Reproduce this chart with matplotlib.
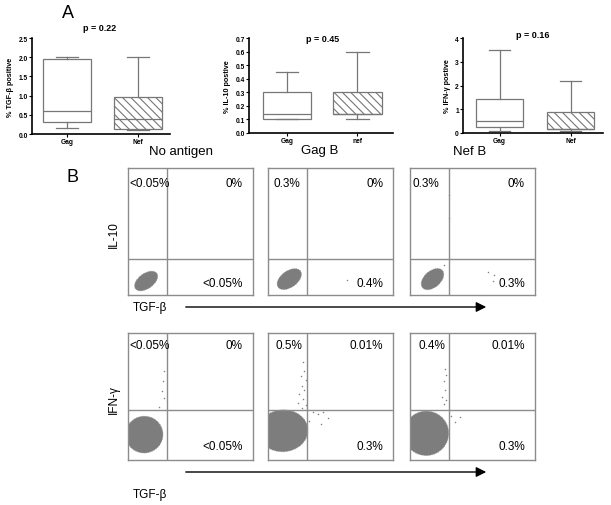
import matplotlib
matplotlib.use("Agg")
import matplotlib.pyplot as plt
from matplotlib.patches import Ellipse

plt.rcParams['font.family'] = ['Liberation Sans', 'DejaVu Sans']
plt.rcParams['hatch.color'] = '#555555'
plt.rcParams['hatch.linewidth'] = 0.8

W, H = 611, 506

# ---- panel A : box plot summaries (whislo, q1, med, q3, whishi)
groups = ["No antigen", "Gag B", "Nef B"]
ylabels = ["% TGF-\u03b2 positive", "% IL-10 postive", "% IFN-\u03b3 postive"]
xticklabels = [["Gag", "Nef"], ["Gag", "nef"], ["Gag", "Nef"]]
pvalues = ["p = 0.22", "p = 0.45", "p = 0.16"]
gag_stats = [(0.15, 0.30, 0.60, 1.95, 2.00),
             (0.10, 0.10, 0.14, 0.30, 0.45),
             (0.10, 0.25, 0.50, 1.45, 3.50)]
nef_stats = [(0.10, 0.12, 0.40, 0.97, 2.00),
             (0.10, 0.14, 0.14, 0.30, 0.60),
             (0.10, 0.15, 0.15, 0.88, 2.20)]
ymax = [2.5, 0.7, 4]
ytick_steps = [0.5, 0.1, 1]

# ---- panel B : flow cytometry quadrant percentages
row_ylabels = ["IL-10", "IFN-\u03b3"]
ul_labels = [["<0.05%", "0.3%", "0.3%"], ["<0.05%", "0.5%", "0.4%"]]
ur_labels = [["0%", "0%", "0%"], ["0%", "0.01%", "0.01%"]]
lr_labels = [["<0.05%", "0.4%", "0.3%"], ["<0.05%", "0.3%", "0.3%"]]
# cell cloud outline: centre x, centre y, width, height, angle (axes fraction)
clouds = [[(0.145, 0.11, 0.21, 0.12, 35), (0.17, 0.125, 0.22, 0.13, 35), (0.18, 0.125, 0.21, 0.13, 40)],
          [(0.13, 0.20, 0.30, 0.29, 5), (0.12, 0.23, 0.40, 0.33, 3), (0.13, 0.21, 0.36, 0.35, 3)]]
stray_dots = [[[],
               [(0.63, 0.12)],
               [(0.67, 0.16), (0.66, 0.11), (0.62, 0.18), (0.31, 0.79), (0.31, 0.61), (0.27, 0.24)]],
              [[(0.29, 0.70), (0.28, 0.62), (0.27, 0.54), (0.29, 0.49), (0.25, 0.42)],
               [(0.28, 0.77), (0.29, 0.70), (0.26, 0.66), (0.30, 0.63), (0.27, 0.58), (0.29, 0.55),
                (0.25, 0.52), (0.28, 0.48), (0.24, 0.45), (0.30, 0.43), (0.27, 0.41), (0.36, 0.38),
                (0.40, 0.36), (0.44, 0.38), (0.48, 0.33), (0.42, 0.28), (0.33, 0.31)],
               [(0.28, 0.72), (0.29, 0.67), (0.27, 0.62), (0.28, 0.55), (0.26, 0.50), (0.29, 0.47),
                (0.27, 0.44), (0.33, 0.35), (0.40, 0.34), (0.36, 0.30)]]]


def fig_axes(fig, x0, y0, x1, y1):
    return fig.add_axes([x0 / W, 1 - y1 / H, (x1 - x0) / W, (y1 - y0) / H])


fig = plt.figure(figsize=(W / 100, H / 100), dpi=100)

box_px = [(32, 39, 170, 135), (249, 39, 393, 134), (463, 39, 603, 134)]
positions = [[0.254, 0.768], [0.264, 0.753], [0.261, 0.768]]
widths = [0.348, 0.335, 0.336]
p_pos = [(0.49, 1.11), (0.51, 1.0), (0.495, 1.04)]
group_px = [(181, 152), (320, 151), (470, 152)]

for i in range(3):
    ax = fig_axes(fig, *box_px[i])
    stats = []
    for s in (gag_stats[i], nef_stats[i]):
        stats.append(dict(whislo=s[0], q1=s[1], med=s[2], q3=s[3], whishi=s[4], fliers=[]))
    bp = ax.bxp(stats, positions=positions[i], widths=widths[i], patch_artist=True,
                showfliers=False,
                boxprops=dict(edgecolor='#777777', linewidth=0.9),
                whiskerprops=dict(color='#777777', linewidth=0.9),
                capprops=dict(color='#777777', linewidth=0.9),
                medianprops=dict(color='#777777', linewidth=0.9))
    for cap in bp['caps']:
        c = cap.get_xdata().mean()
        cap.set_xdata([c - widths[i] * 0.23, c + widths[i] * 0.23])
    bp['boxes'][0].set_facecolor('white')
    bp['boxes'][1].set_facecolor('white')
    bp['boxes'][1].set_hatch('\\\\\\\\')
    ax.set_xlim(0, 1)
    ax.set_ylim(0, ymax[i])
    n = int(round(ymax[i] / ytick_steps[i]))
    ticks = [k * ytick_steps[i] for k in range(n + 1)]
    ax.set_yticks(ticks)
    if ytick_steps[i] < 1:
        ax.set_yticklabels(["%.1f" % t for t in ticks])
    ax.set_xticks(positions[i])
    ax.set_xticklabels(xticklabels[i])
    ax.tick_params(labelsize=4.8, length=2, width=0.8, pad=1)
    for lab in ax.get_xticklabels() + ax.get_yticklabels():
        lab.set_fontweight('bold')
    ax.spines['top'].set_visible(False)
    ax.spines['right'].set_visible(False)
    ax.spines['left'].set_linewidth(1.2)
    ax.spines['bottom'].set_linewidth(1.2)
    ax.set_ylabel(ylabels[i], fontsize=5.2, fontweight='bold', labelpad=3)
    ax.text(p_pos[i][0], p_pos[i][1], pvalues[i], transform=ax.transAxes,
            fontsize=6.5, fontweight='bold', ha='center', va='center')
    fig.text(group_px[i][0] / W, 1 - group_px[i][1] / H, groups[i], fontsize=9.5,
             ha='center', va='center')

fig.text(68 / W, 1 - 13 / H, "A", fontsize=13, ha='center', va='center')
fig.text(73 / W, 1 - 178 / H, "B", fontsize=13, ha='center', va='center')

# ---- panel B
col_px = [(128, 253), (268, 393), (410, 535)]
row_px = [(169, 296), (334, 461)]
hline = [0.28, 0.39]
vline = 0.31
ul_x = [[0.01, 0.04, 0.02], [0.01, 0.06, 0.07]]
top_y = [0.885, 0.905]
low_y = [0.095, 0.11]
frame = '#8c8c8c'
cloud_col = '#7d7d7d'

for r in range(2):
    for c in range(3):
        ax = fig_axes(fig, col_px[c][0], row_px[r][0], col_px[c][1], row_px[r][1])
        ax.set_xlim(0, 1)
        ax.set_ylim(0, 1)
        ax.set_xticks([])
        ax.set_yticks([])
        for sp in ax.spines.values():
            sp.set_color(frame)
            sp.set_linewidth(1.0)
        cx, cy, cw, ch, ang = clouds[r][c]
        ax.add_patch(Ellipse((cx, cy), cw, ch, angle=ang,
                             facecolor=cloud_col, edgecolor='#9a9a9a', linewidth=0.6,
                             linestyle=':'))
        dots = stray_dots[r][c]
        if dots:
            ax.scatter([d[0] for d in dots], [d[1] for d in dots], s=1.2,
                       color='#808080', linewidths=0)
        ax.axvline(vline, color=frame, lw=1.0)
        ax.axhline(hline[r], color=frame, lw=1.0)
        ax.text(ul_x[r][c], top_y[r], ul_labels[r][c], fontsize=8.5, ha='left', va='center')
        ax.text(0.92, top_y[r], ur_labels[r][c], fontsize=8.5, ha='right', va='center')
        ax.text(0.92, low_y[r], lr_labels[r][c], fontsize=8.5, ha='right', va='center')

fig.text(114 / W, 1 - 235 / H, row_ylabels[0], fontsize=8.5, rotation=90,
         ha='center', va='center')
fig.text(114 / W, 1 - 400 / H, row_ylabels[1], fontsize=8.5, rotation=90,
         ha='center', va='center')
fig.text(133 / W, 1 - 308 / H, "TGF-\u03b2", fontsize=8.5, ha='left', va='center')
fig.text(133 / W, 1 - 495 / H, "TGF-\u03b2", fontsize=8.5, ha='left', va='center')

for yy in (308, 473):
    fig.add_artist(matplotlib.patches.FancyArrowPatch(
        (183 / W, 1 - yy / H), (489 / W, 1 - yy / H), transform=fig.transFigure,
        arrowstyle='-|>,head_length=4,head_width=2', mutation_scale=1.5,
        color='black', lw=1.0))

fig.savefig("out.png", dpi=100)
